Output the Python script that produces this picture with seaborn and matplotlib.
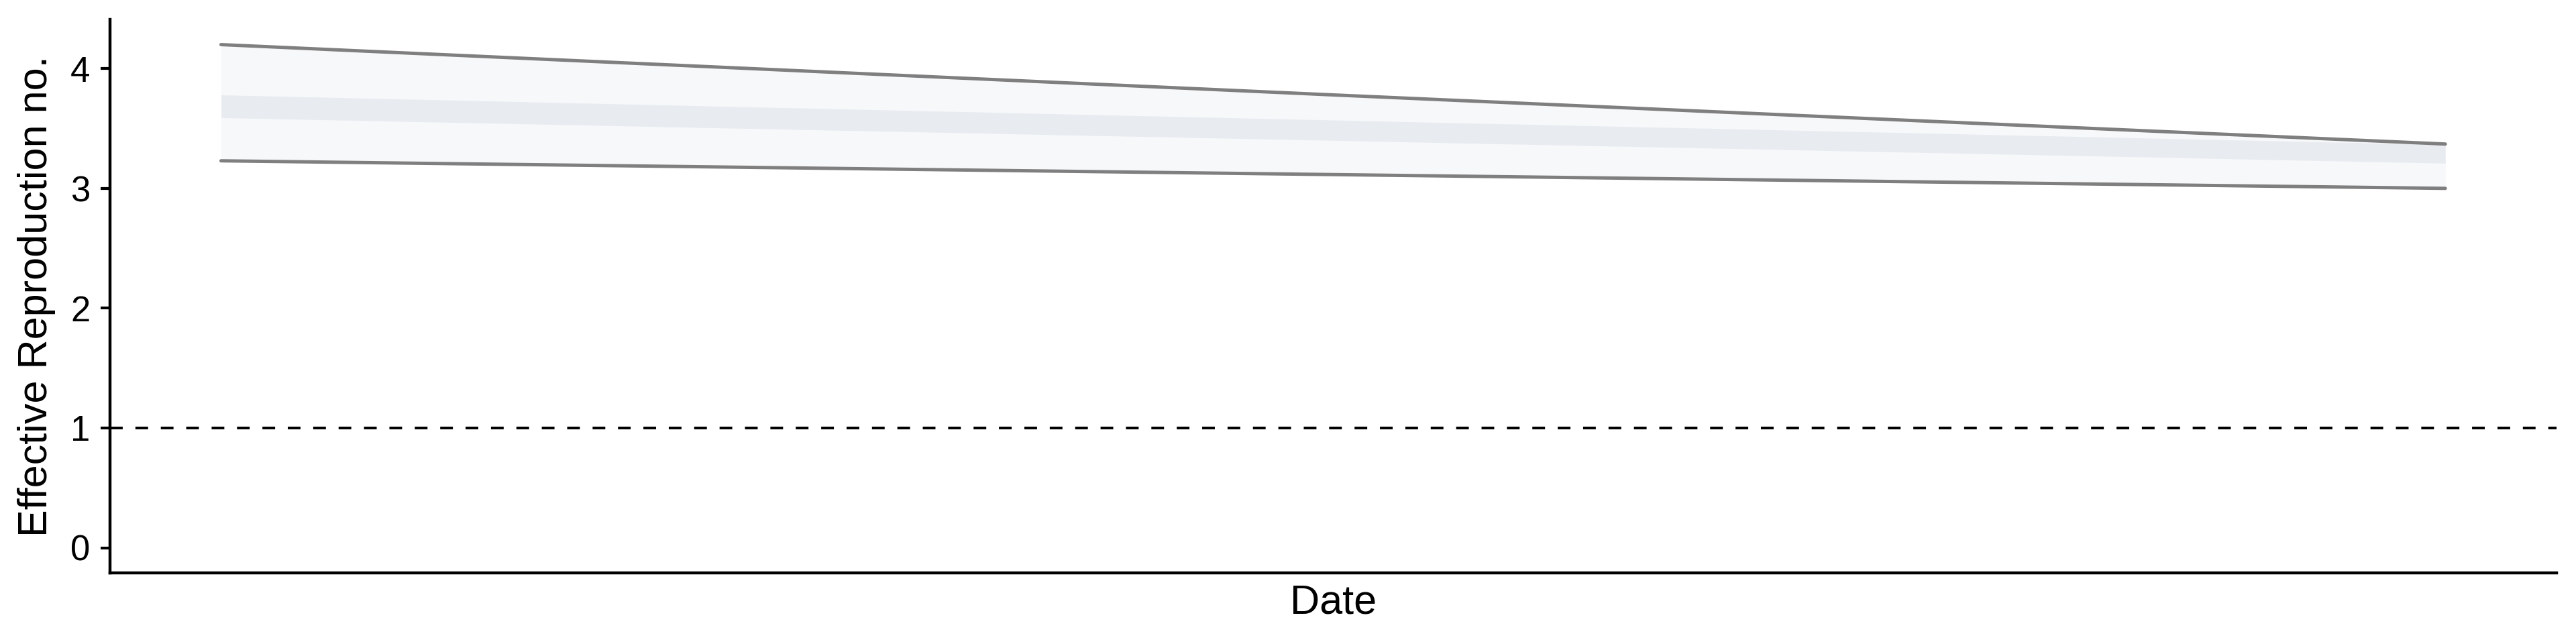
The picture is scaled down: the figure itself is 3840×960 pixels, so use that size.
import matplotlib
matplotlib.use("Agg")
import matplotlib.pyplot as plt
import seaborn as sns
import pandas as pd
import numpy as np

# ---- data ----
dates = pd.to_datetime(["2020-03-01", "2020-03-15", "2020-03-29"])
upper_90 = [4.20, 3.78, 3.37]
lower_90 = [3.23, 3.115, 3.00]
upper_50 = [3.78, 3.57, 3.365]
lower_50 = [3.59, 3.40, 3.21]
threshold = 1.0
y_ticks = [0, 1, 2, 3, 4]

sns.set_theme(style="ticks")
plt.rcParams['font.family'] = ['Liberation Sans', 'DejaVu Sans']

DPI = 200
fig = plt.figure(figsize=(3840 / DPI, 960 / DPI), dpi=DPI)
ax = fig.add_axes([163.7 / 3840, 1 - 854 / 960, (3811 - 163.7) / 3840, (854 - 29) / 960])

df = pd.DataFrame({"date": dates, "upper": upper_90, "lower": lower_90,
                   "u50": upper_50, "l50": lower_50})

ax.fill_between(df["date"], df["lower"], df["upper"], color="#f7f8fa", lw=0, zorder=1)
ax.fill_between(df["date"], df["l50"], df["u50"], color="#e8ebf0", lw=0, zorder=2)
sns.lineplot(data=df, x="date", y="upper", color="#7f7f7f", lw=1.8, ax=ax, zorder=3)
sns.lineplot(data=df, x="date", y="lower", color="#7f7f7f", lw=1.8, ax=ax, zorder=3)
ax.axhline(threshold, color="black", lw=1.45, ls=(0, (4.7, 4.7)), zorder=4)

# ggplot-like expansion
xn = matplotlib.dates.date2num(df["date"])
xr = xn.max() - xn.min()
ax.set_xlim(xn.min() - 0.05 * xr, xn.max() + 0.05 * xr)
ymax = max(upper_90)
ax.set_ylim(-0.05 * ymax, 1.05 * ymax)

ax.set_yticks(y_ticks)
ax.set_yticklabels([str(t) for t in y_ticks])
ax.set_xticks([])
ax.tick_params(axis="y", length=5, width=1.5, labelsize=19, pad=5.5, colors="black")
ax.set_xlabel("Date", fontsize=22, labelpad=6, color="black")
ax.set_ylabel("Effective Reproduction no.", fontsize=22, labelpad=8, color="black")
sns.despine(ax=ax)
for s in ["left", "bottom"]:
    ax.spines[s].set_linewidth(1.6)
    ax.spines[s].set_color("black")

fig.savefig("out.png", dpi=DPI)
